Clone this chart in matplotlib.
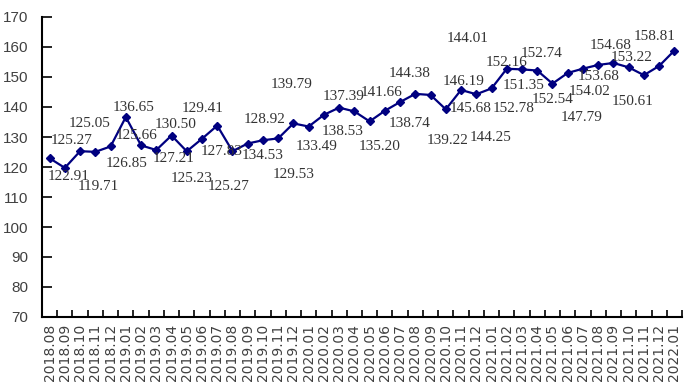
import numpy as np
import matplotlib
matplotlib.use("Agg")
import matplotlib.pyplot as plt

# months on the x axis
months = ["2018.08", "2018.09", "2018.10", "2018.11", "2018.12",
          "2019.01", "2019.02", "2019.03", "2019.04", "2019.05", "2019.06",
          "2019.07", "2019.08", "2019.09", "2019.10", "2019.11", "2019.12",
          "2020.01", "2020.02", "2020.03", "2020.04", "2020.05", "2020.06",
          "2020.07", "2020.08", "2020.09", "2020.10", "2020.11", "2020.12",
          "2021.01", "2021.02", "2021.03", "2021.04", "2021.05", "2021.06",
          "2021.07", "2021.08", "2021.09", "2021.10", "2021.11", "2021.12",
          "2022.01"]

# index values (2019.07 has no label on the reference)
values = [122.91, 119.71, 125.27, 125.05, 126.85, 136.65, 127.21, 125.66,
          130.50, 125.23, 129.41, 133.80, 125.27, 127.83, 128.92, 129.53,
          134.53, 133.49, 137.39, 139.79, 138.53, 135.20, 138.74, 141.66,
          144.38, 144.01, 139.22, 145.68, 144.25, 146.19, 152.74, 152.54,
          152.16, 147.79, 151.35, 152.78, 154.02, 154.68, 153.22, 150.61,
          153.68, 158.81]
unlabeled = [11]

# label offsets in pixels from each point (dx right, dy down), as placed in the reference
label_dx = [19, 33, -8, -6, 16, 8, 33, -20, 4, 5, 1, 0, -4, -26, 2, 15, -31, 8,
            20, -48, -12, 10, 25, -18, -6, 37, 2, 10, 14, -28, 35, 31, -31, 29,
            -44, -69, -9, -3, 3, -11, -61, -20]
label_dy = [18, 19, -11, -28, 17, -10, 13, -15, -11, 27, -30, 0, 35, 8, -21, 36,
            32, 20, -18, -23, 20, 25, 13, -10, -20, -56, 31, 19, 43, -7, -15, 30,
            -8, 34, 13, 40, 27, -17, -10, 26, 11, -14]

fig = plt.figure(figsize=(6.92, 3.87), dpi=100)
ax = fig.add_axes([42 / 692, 70 / 387, 640 / 692, 300 / 387])

x = np.arange(len(months))
ax.plot(x, values, color="#000080", lw=1.6, marker="D", ms=4.4, zorder=3)

for i, v in enumerate(values):
    if i in unlabeled:
        continue
    ax.annotate("%.2f" % v, (x[i], v), xytext=(label_dx[i], -label_dy[i]),
                textcoords="offset pixels", ha="center", va="center",
                fontsize=11, family="Liberation Serif", color="#333333")

ax.set_xlim(-0.5, len(months) - 0.5)
ax.set_ylim(70, 170)
ax.set_yticks(np.arange(70, 171, 10))

# ticks sit between categories, labels at categories
ax.set_xticks(np.arange(-0.5, len(months), 1))
ax.set_xticklabels([])
ax.set_xticks(x, minor=True)
ax.set_xticklabels(months, minor=True, rotation=90, fontsize=10,
                   family="DejaVu Sans", color="#404040")
ax.tick_params(axis="x", which="major", direction="in", length=5, width=1.2)
ax.tick_params(axis="x", which="minor", length=0, pad=5)
ax.tick_params(axis="y", direction="in", length=7, width=1.2, pad=10,
               labelsize=11, labelcolor="#404040")
for lab in ax.get_yticklabels():
    lab.set_family("Liberation Sans")

for side in ["top", "right"]:
    ax.spines[side].set_visible(False)
for side in ["left", "bottom"]:
    ax.spines[side].set_linewidth(1.5)

fig.savefig("out.png", dpi=100)
